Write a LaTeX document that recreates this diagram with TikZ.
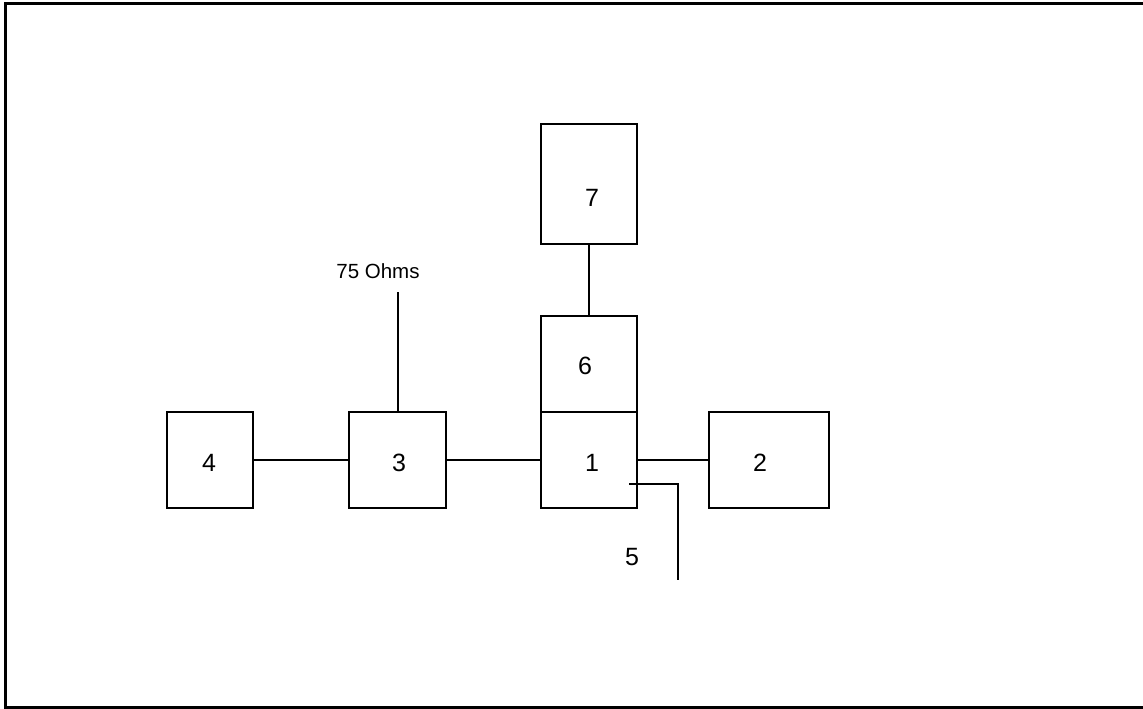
\documentclass[tikz,border=0pt]{standalone}
\usepackage{fontspec}
\setmainfont{Liberation Sans}
\begin{document}
\begin{tikzpicture}[x=1pt,y=-1pt,
  box/.style={draw,line width=1.8pt,rectangle,inner sep=0pt,minimum width=96pt,minimum height=96pt},
  wire/.style={line width=1.8pt},
  num/.style={inner sep=0pt,font=\fontsize{25}{28}\selectfont},
  small/.style={inner sep=0pt,font=\fontsize{20.5}{24}\selectfont}]
\useasboundingbox (0,0) rectangle (1143,709);
% frame
\draw[line width=2.6pt] (1150,3.5) -- (5.5,3.5) -- (5.5,707.5) -- (1150,707.5);
% boxes
\node[box,minimum width=86pt] (b4) at (210,460) {};
\node[box,minimum width=97pt] (b3) at (397.5,460) {};
\node[box] (b1) at (589,460) {};
\node[box] (b6) at (589,364) {};
\node[box,minimum height=120pt] (b7) at (589,184) {};
\node[box,minimum width=120pt] (b2) at (769,460) {};
% labels
\node[num] (l4) at (209,463) {4};
\node[num] (l3) at (399,463) {3};
\node[num] (l1) at (592,463) {1};
\node[num] (l6) at (585,366) {6};
\node[num] (l7) at (592,198) {7};
\node[num] (l2) at (760,463) {2};
\node[num] (l5) at (632,557) {5};
\node[small] (ohm) at (378,271) {75 Ohms};
% connectors
\draw[wire] (b4.east) -- (b3.west);
\draw[wire] (b3.east) -- (b1.west);
\draw[wire] (b1.east) -- (b2.west);
\draw[wire] (b7.south) -- (b6.north);
\coordinate (ohmend) at (398,292);
\draw[wire] (b3.north -| ohmend) -- (ohmend);
\coordinate (p5a) at (629,484);
\coordinate (p5b) at (678,484);
\coordinate (p5c) at (678,580);
\draw[wire] (p5a) -- (p5b) -- (p5c);
\end{tikzpicture}
\end{document}
